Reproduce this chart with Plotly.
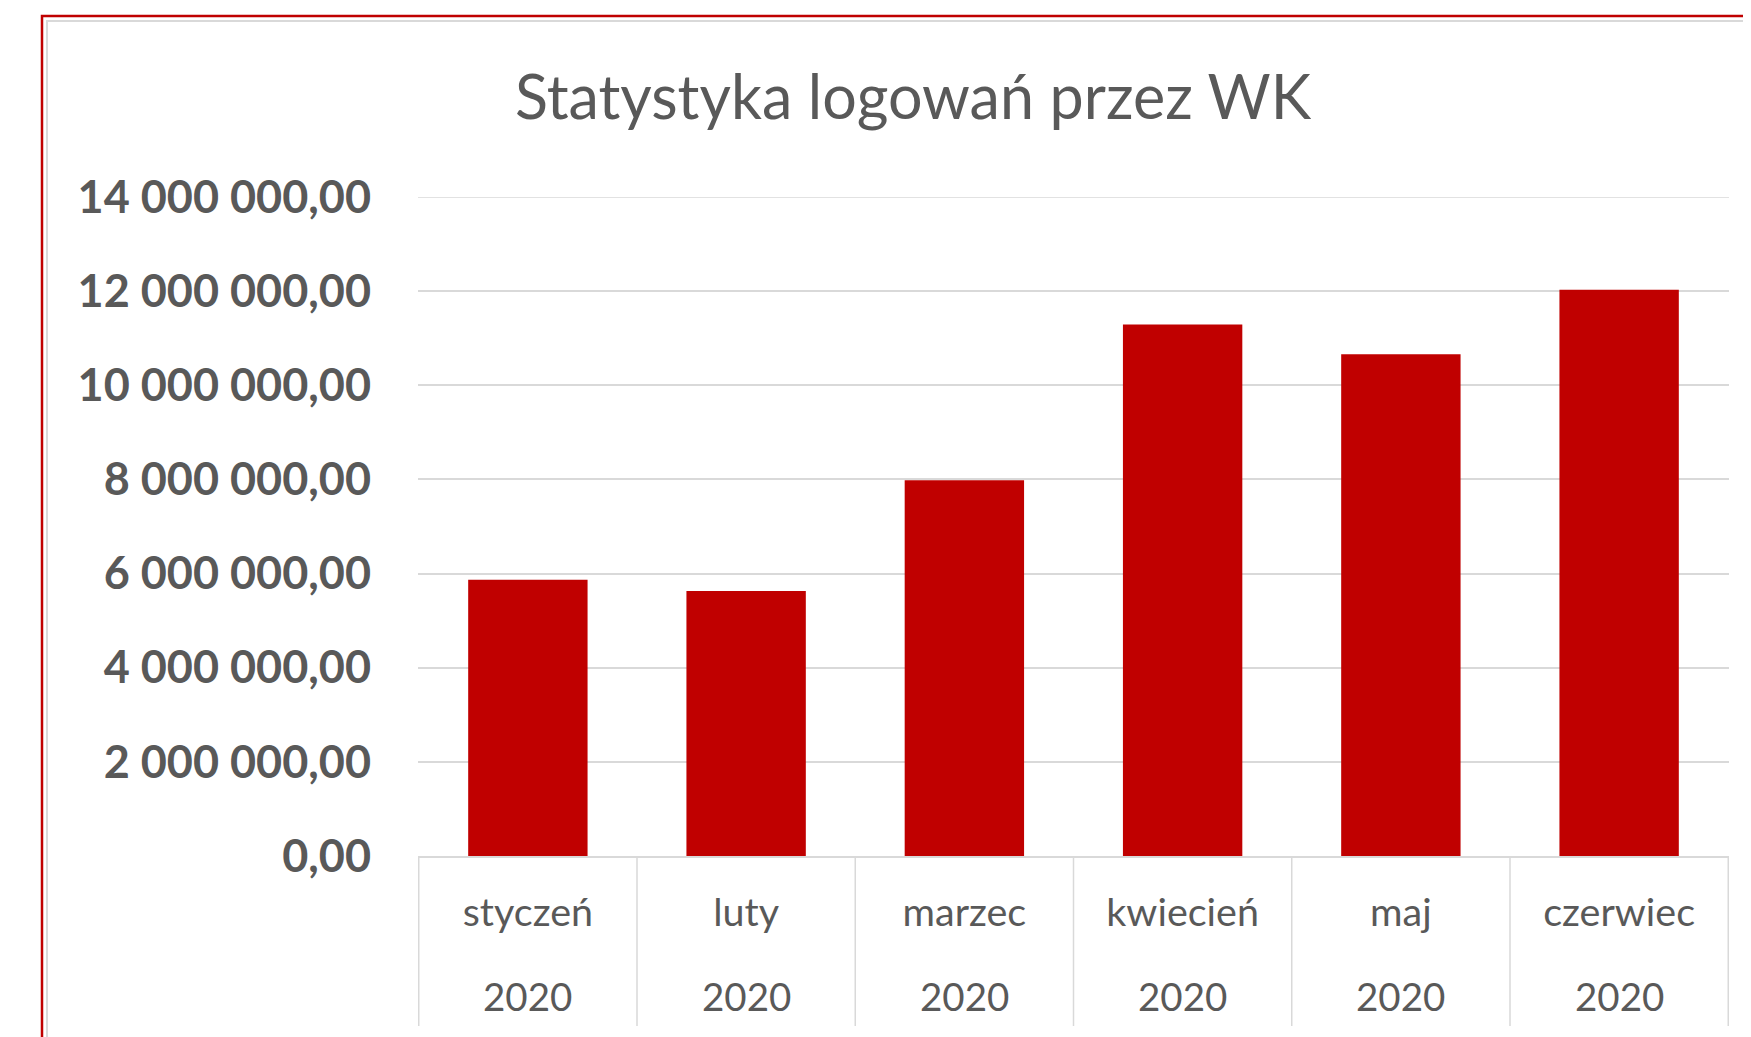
import plotly.graph_objects as go

# ---- data ----
months = ["styczeń", "luty", "marzec", "kwiecień", "maj", "czerwiec"]
years = ["2020", "2020", "2020", "2020", "2020", "2020"]
logins = [5870000, 5630000, 7980000, 11290000, 10660000, 12030000]
y_ticks = [0, 2000000, 4000000, 6000000, 8000000, 10000000, 12000000, 14000000]

# ---- layout geometry (page pixels; page body has an 8px margin) ----
OFF = 8
W, H = 1751 - OFF, 1037 - OFF
L, R = 418 - OFF, 1729 - OFF      # plot area left/right
T, B = 197 - OFF, 856 - OFF       # plot area top/bottom
PW, PH = R - L, B - T

def px_x(p):
    return (p - OFF - L) / PW

def px_y(p):
    return (B - (p - OFF)) / PH

TEXT = "#595959"
GRID = "#D9D9D9"
BAR = "#C00000"
FONT = "Lato"

fig = go.Figure()
fig.add_trace(go.Bar(
    x=months, y=logins,
    marker=dict(color=BAR, line=dict(width=0)),
    hoverinfo="x+y",
))

shapes = []
# top gridline (at the range edge, not drawn automatically)
shapes.append(dict(type="line", xref="paper", yref="y",
                   x0=0, x1=1, y0=y_ticks[-1], y1=y_ticks[-1],
                   line=dict(color=GRID, width=1.5), layer="below"))
# category separators below the axis
for i in range(len(months) + 1):
    shapes.append(dict(type="line", xref="x", yref="paper",
                       x0=i - 0.5, x1=i - 0.5, y0=0, y1=px_y(1026),
                       line=dict(color=GRID, width=1.5), layer="below"))
# outer frame: red border and grey inner line
shapes.append(dict(type="rect", xref="paper", yref="paper",
                   x0=px_x(47), x1=px_x(1800), y0=px_y(1100), y1=px_y(21),
                   line=dict(color=GRID, width=2), layer="below"))
shapes.append(dict(type="rect", xref="paper", yref="paper",
                   x0=px_x(42), x1=px_x(1800), y0=px_y(1100), y1=px_y(16),
                   line=dict(color=BAR, width=2.5), layer="below"))

annotations = []
for m, yv in zip(months, years):
    annotations.append(dict(x=m, xref="x", y=px_y(996), yref="paper",
                            text=yv, showarrow=False, yanchor="middle",
                            font=dict(family=FONT, size=38.5, color=TEXT)))

fig.update_layout(
    width=W, height=H,
    margin=dict(l=L, r=W - R, t=T, b=H - B, pad=0),
    paper_bgcolor="white", plot_bgcolor="white",
    separators=", ",
    title=dict(text="Statystyka logowań przez WK",
               xref="container", x=(913 - OFF) / W, xanchor="center",
               y=1 - (98 - OFF) / H, yanchor="middle",
               font=dict(family=FONT, size=61, color=TEXT)),
    bargap=0.453,
    showlegend=False,
    shapes=shapes,
    annotations=annotations,
    font=dict(family=FONT, color=TEXT),
)

fig.update_xaxes(
    showline=True, linecolor=GRID, linewidth=1.5,
    showgrid=False, ticks="",
    tickfont=dict(family=FONT, size=39.5, color=TEXT),
    ticklabelstandoff=21,
)
fig.update_yaxes(
    range=[0, 14000000],
    tickvals=y_ticks, tickformat=",.2f",
    showgrid=True, gridcolor=GRID, gridwidth=1.5,
    zeroline=False, showline=False, ticks="",
    tickfont=dict(family=FONT, size=45, color=TEXT, weight="bold"),
    ticklabelstandoff=46,
)

fig.write_html("out.html")
